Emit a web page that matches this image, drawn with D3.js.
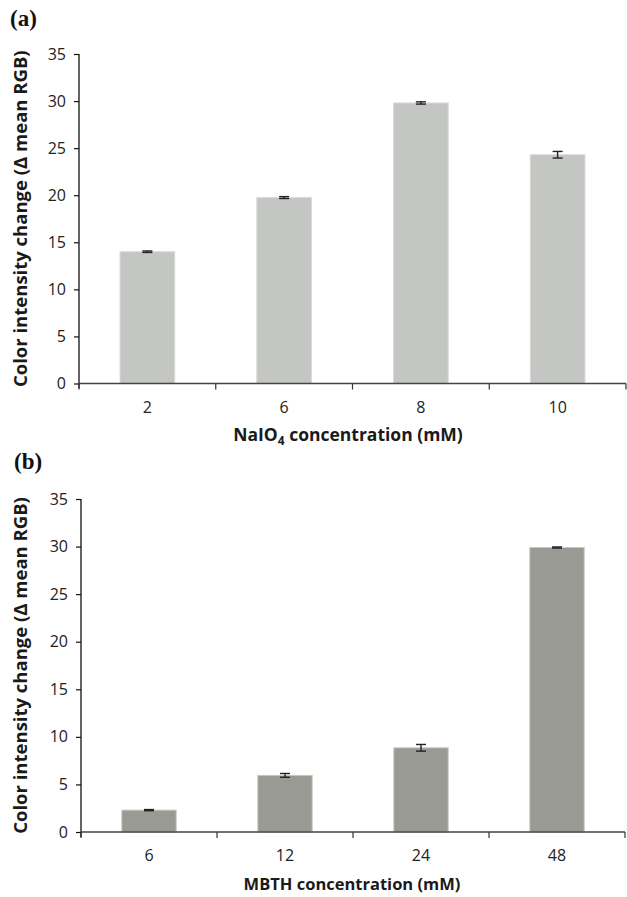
<!DOCTYPE html>
<html>
<head>
<meta charset="utf-8">
<script src="https://cdn.jsdelivr.net/npm/d3@7"></script>
<style>
  body { margin: 0; background: #fff; }
  svg text { font-family: "Open Sans", sans-serif; }
  svg text.panel { font-family: "Liberation Serif", "DejaVu Serif", serif; }
</style>
</head>
<body>
<svg id="chart" width="627" height="897"></svg>
<script>
// panel (a): NaIO4 concentration
const naio4Levels = ['2', '6', '8', '10'];
const naio4Values = [14.0, 19.75, 29.8, 24.3];
const naio4Errors = [0.08, 0.1, 0.12, 0.35];

// panel (b): MBTH concentration
const mbthLevels = ['6', '12', '24', '48'];
const mbthValues = [2.3, 5.95, 8.85, 29.9];
const mbthErrors = [0.06, 0.2, 0.35, 0.06];

const yTicks = [0, 5, 10, 15, 20, 25, 30, 35];
const yTitle = 'Color intensity change (\u0394 mean RGB)';

const svg = d3.select('#chart');

function drawPanel(opt) {
    const g = svg.append('g');

    const x = d3.scaleBand().domain(opt.levels).range([opt.left, opt.right]).padding(0);
    const y = d3.scaleLinear().domain([0, 35]).range([opt.bottom, opt.top]);

    // bars
    const barW = x.bandwidth() * 0.4;
    g.selectAll('.bar')
        .data(opt.values)
        .enter()
        .append('rect')
        .attr('x', (d, i) => x(opt.levels[i]) + (x.bandwidth() - barW) / 2)
        .attr('y', d => y(d))
        .attr('width', barW)
        .attr('height', d => opt.bottom - y(d))
        .attr('fill', opt.color)
        .attr('stroke', opt.edge)
        .attr('stroke-width', 1);

    // error bars
    const err = g.selectAll('.err')
        .data(opt.values)
        .enter()
        .append('g')
        .attr('stroke', '#222')
        .attr('stroke-width', 1.4);
    err.append('line')
        .attr('x1', (d, i) => x(opt.levels[i]) + x.bandwidth() / 2)
        .attr('x2', (d, i) => x(opt.levels[i]) + x.bandwidth() / 2)
        .attr('y1', (d, i) => y(d + opt.errors[i]))
        .attr('y2', (d, i) => y(d - opt.errors[i]));
    [1, -1].forEach(s => {
        err.append('line')
            .attr('x1', (d, i) => x(opt.levels[i]) + x.bandwidth() / 2 - 5)
            .attr('x2', (d, i) => x(opt.levels[i]) + x.bandwidth() / 2 + 5)
            .attr('y1', (d, i) => y(d + s * opt.errors[i]))
            .attr('y2', (d, i) => y(d + s * opt.errors[i]));
    });

    // y axis
    const yAxis = g.append('g')
        .attr('transform', `translate(${opt.left},0)`)
        .call(d3.axisLeft(y).tickValues(yTicks).tickSize(5).tickPadding(8));
    yAxis.select('.domain').attr('stroke', '#111').attr('stroke-width', 1.3).attr('d', `M0,${opt.top}V${opt.bottom + 5}`);
    yAxis.selectAll('.tick line').attr('stroke', '#111').attr('stroke-width', 1.2);
    yAxis.selectAll('.tick text').attr('font-size', 16).attr('fill', '#222').attr('font-family', '"Open Sans", sans-serif');

    // x axis: labels centred, ticks between categories
    const xAxis = g.append('g')
        .attr('transform', `translate(0,${opt.bottom})`)
        .call(d3.axisBottom(x).tickSize(0).tickPadding(18));
    xAxis.select('.domain').attr('stroke', '#444').attr('stroke-width', 1.6).attr('d', `M${opt.left},0H${opt.right}`);
    xAxis.selectAll('.tick text').attr('font-size', 16).attr('fill', '#222').attr('font-family', '"Open Sans", sans-serif');
    const bounds = opt.levels.map(l => x(l)).concat([opt.right]);
    xAxis.selectAll('.bound')
        .data(bounds)
        .enter()
        .append('line')
        .attr('x1', d => d)
        .attr('x2', d => d)
        .attr('y1', 0)
        .attr('y2', 6)
        .attr('stroke', '#333')
        .attr('stroke-width', 1.2);

    // y title
    g.append('text')
        .attr('transform', `translate(27,${(opt.top + opt.bottom) / 2}) rotate(-90)`)
        .attr('text-anchor', 'middle')
        .attr('font-size', 18.5)
        .attr('font-weight', 'bold')
        .attr('fill', '#1a1a1a')
        .text(yTitle);

    // x title
    const xt = g.append('text')
        .attr('x', opt.xTitleX)
        .attr('y', opt.xTitleY)
        .attr('text-anchor', 'middle')
        .attr('font-size', opt.xTitleSize)
        .attr('font-weight', 'bold')
        .attr('fill', '#1a1a1a');
    opt.xTitle.forEach(part => {
        const t = xt.append('tspan').text(part.text);
        if (part.sub) t.attr('font-size', 12).attr('baseline-shift', '-4');
    });

    // panel label
    g.append('text')
        .attr('class', 'panel')
        .attr('x', opt.labelX)
        .attr('y', opt.labelY)
        .attr('font-weight', 'bold')
        .attr('font-size', 23)
        .attr('fill', '#111')
        .text(opt.label);
}

drawPanel({
    levels: naio4Levels, values: naio4Values, errors: naio4Errors,
    left: 79, right: 626, top: 54, bottom: 383.5,
    color: '#c4c6c4', edge: '#dadbd9',
    xTitle: [{text: 'NaIO'}, {text: '4', sub: true}, {text: ' concentration (mM)'}],
    xTitleX: 348, xTitleY: 441, xTitleSize: 17.5,
    label: '(a)', labelX: 10, labelY: 26
});

drawPanel({
    levels: mbthLevels, values: mbthValues, errors: mbthErrors,
    left: 81, right: 625, top: 499, bottom: 832,
    color: '#999a94', edge: '#c8c9c4',
    xTitle: [{text: 'MBTH concentration (mM)'}],
    xTitleX: 352, xTitleY: 890, xTitleSize: 16.5,
    label: '(b)', labelX: 14, labelY: 469
});
</script>
</body>
</html>
